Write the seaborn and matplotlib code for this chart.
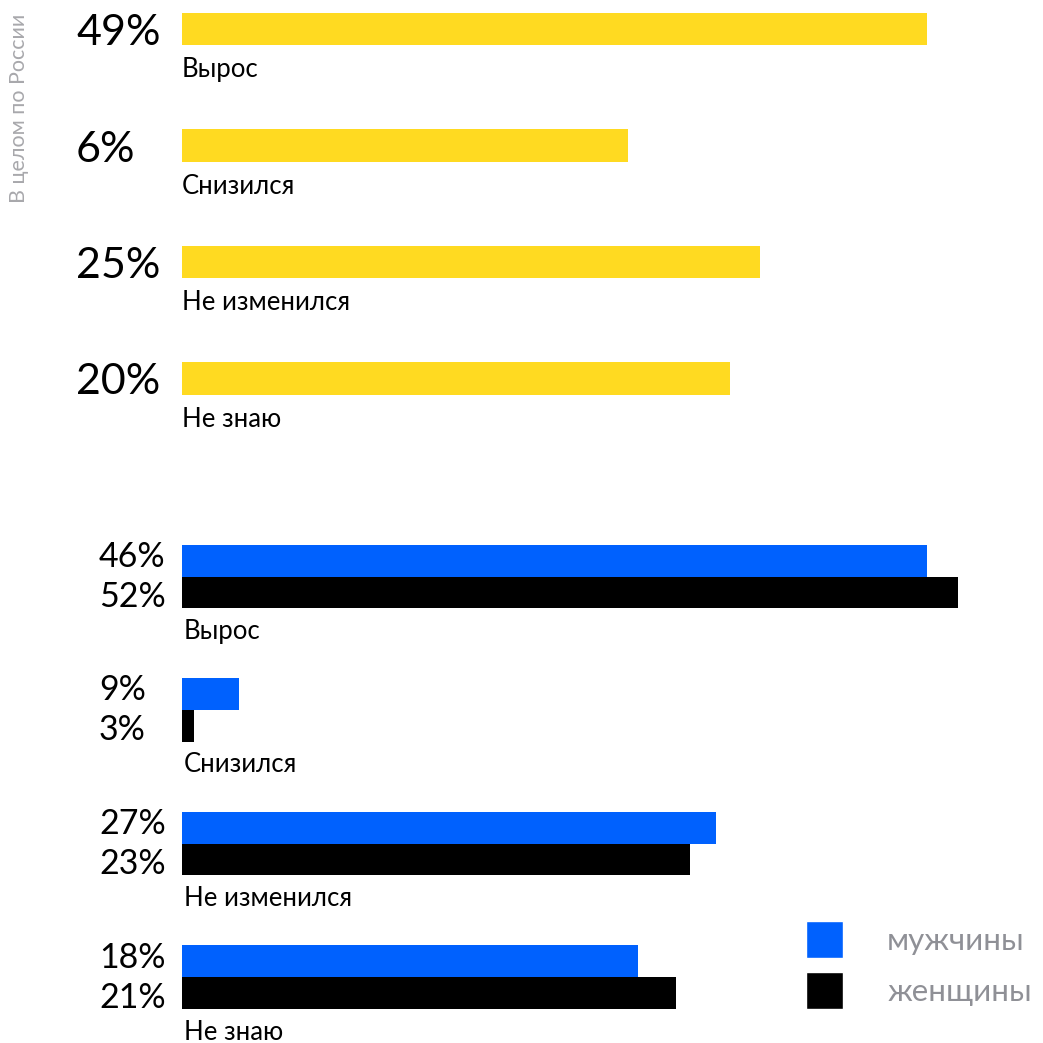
import matplotlib
matplotlib.use("Agg")
import matplotlib.pyplot as plt
import seaborn as sns
import pandas as pd
from matplotlib.patches import Patch
from matplotlib.transforms import blended_transform_factory

# ---------------- data ----------------
categories = ["Вырос", "Снизился", "Не изменился", "Не знаю"]
overall_pct = [49, 6, 25, 20]
# bar lengths as drawn in the original graphic (not proportional to labels)
overall_bar = [745, 446, 578, 548]
men_pct = [46, 9, 27, 18]
women_pct = [52, 3, 23, 21]
men_bar = [745, 57, 534, 456]
women_bar = [776, 12, 508, 494]
groups = ["мужчины", "женщины"]
side_title = "В целом по России"

YELLOW = "#FFDA21"
BLUE = "#0061FE"
BLACK = "#000000"
GREY_TXT = "#8F9096"
GREY_SIDE = "#A8A8AC"

sns.set_theme(style="white")
plt.rcParams['font.family'] = ['Lato', 'DejaVu Sans']

W = H = 1043
fig = plt.figure(figsize=(10.43, 10.43), dpi=100)


def fx(px):
    return px / W


def fy(px):
    return 1 - px / H


XMAX = 861
X0 = 182

# ---------------- top panel ----------------
t0, t1 = 0, 440
c0_top, step_top = 29.0, 116.5
axt = fig.add_axes([fx(X0), fy(t1), XMAX / W, (t1 - t0) / H])
df_top = pd.DataFrame({"cat": categories, "len": overall_bar})
sns.barplot(data=df_top, x="len", y="cat", ax=axt, color=YELLOW, width=0.283,
            saturation=1, orient="h", linewidth=0)
axt.set_xlim(0, XMAX)
axt.set_ylim((t1 - c0_top) / step_top, (t0 - c0_top) / step_top)
axt.axis("off")

tr_top = blended_transform_factory(fig.transFigure, axt.transData)
for i, (cat, p) in enumerate(zip(categories, overall_pct)):
    fig.text(fx(76), i + 16 / step_top, f"{p}%", transform=tr_top, ha="left",
             va="baseline", fontsize=31, color="black")
    axt.text(0, i + 48.5 / step_top, cat, ha="left", va="baseline",
             fontsize=18.5, color="black")

# ---------------- bottom panel ----------------
b0, b1 = 440, 1043
c0_bot, step_bot = 576.5, 133.5
axb = fig.add_axes([fx(X0), fy(b1), XMAX / W, (b1 - b0) / H])
df_bot = pd.DataFrame({
    "cat": categories * 2,
    "len": men_bar + women_bar,
    "group": [groups[0]] * 4 + [groups[1]] * 4,
})
sns.barplot(data=df_bot, x="len", y="cat", hue="group", hue_order=groups,
            palette={groups[0]: BLUE, groups[1]: BLACK}, width=0.479,
            saturation=1, orient="h", linewidth=0, dodge=True, legend=False,
            ax=axb)
axb.set_xlim(0, XMAX)
axb.set_ylim((b1 - c0_bot) / step_bot, (b0 - c0_bot) / step_bot)
axb.axis("off")

tr_bot = blended_transform_factory(fig.transFigure, axb.transData)
for i, cat in enumerate(categories):
    fig.text(fx(99), i - 9.5 / step_bot, f"{men_pct[i]}%", transform=tr_bot,
             ha="left", va="baseline", fontsize=24.5, color="black")
    fig.text(fx(99), i + 30.5 / step_bot, f"{women_pct[i]}%", transform=tr_bot,
             ha="left", va="baseline", fontsize=24.5, color="black")
    axb.text(2, i + 62.5 / step_bot, cat, ha="left", va="baseline",
             fontsize=18.5, color="black")

# ---------------- legend ----------------
handles = [Patch(facecolor=BLUE, label=groups[0]),
           Patch(facecolor=BLACK, label=groups[1])]
fig.legend(handles=handles, loc="upper left",
           bbox_to_anchor=(fx(806), fy(921)), frameon=False,
           handlelength=1.184, handleheight=1.445, handletextpad=1.41,
           labelspacing=0.45, borderpad=0, borderaxespad=0,
           labelcolor=GREY_TXT, prop={"size": 22.5})

# ---------------- side title ----------------
fig.text(fx(19), fy(14), side_title, rotation=90, ha="center", va="top",
         fontsize=15.5, color=GREY_SIDE)

fig.savefig("out.png", dpi=100, facecolor="white")
